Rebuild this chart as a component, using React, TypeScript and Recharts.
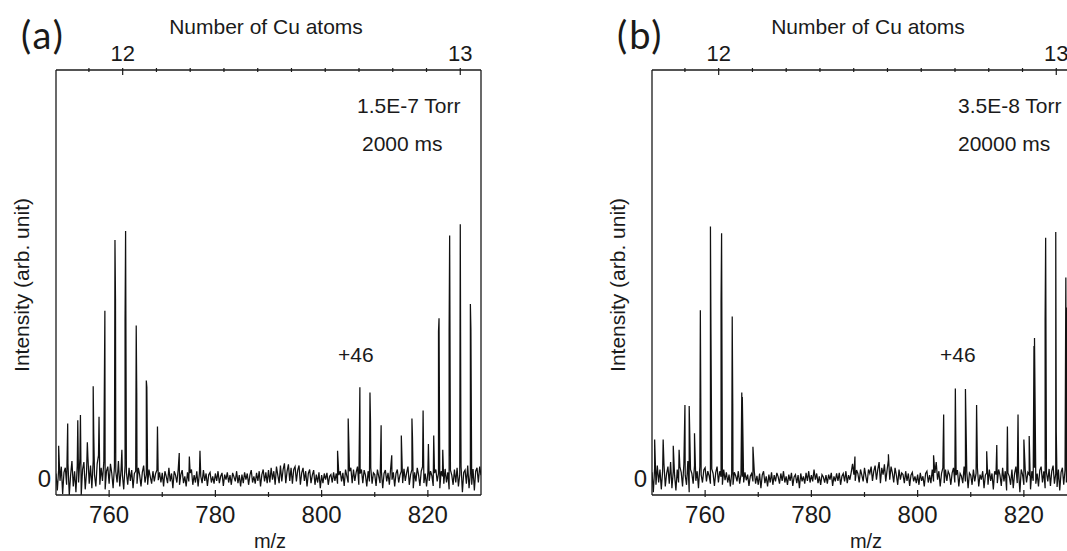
import React from 'react';
import { LineChart, Line, XAxis, YAxis, ReferenceLine } from 'recharts';

// m/z sampling of the baseline trace
const MZ_START = 750;
const MZ_STEP = 0.25;
const MZ_DOMAIN = [750, 830];
const MZ_TICKS = [760, 770, 780, 790, 800, 810, 820];
const MZ_LABELS = [760, 780, 800, 820];

// top axis: number of Cu atoms (mass of one Cu atom)
const CU_MASS = 63.546;
const CU_TICKS = [11.9, 12, 12.1, 12.2, 12.3, 12.4, 12.5, 12.6, 12.7, 12.8, 12.9, 13];
const CU_LABELS = [12, 13];

const Y_DOMAIN = [-30, 720];

// (a) 1.5E-7 Torr, 2000 ms : baseline noise every 0.25 m/z from 750
const noiseA = [
  8, -22, 15, -5, 20, -28, 10, 18, -12, 25, -30, 5, 30, -15, 12, -25, 22, -8, 35, -30,
  15, 28, -20, 10, 38, -10, 22, -18, 30, 5, -15, 25, 40, -12, 18, -5, 28, -20, 12, 20,
  -10, 25, 8, -18, 20, 12, -8, 30, -15, 15, 5, -20, 22, 10, -12, 18, -5, 14, -18, 8,
  12, -10, 18, 5, -15, 10, 22, -8, 6, -12, 15, 2, -10, 12, -6, 8, 14, -4, 10, -8,
  9, -15, 12, 3, -9, 18, -6, 8, -18, 12, 5, -8, 15, -12, 6, 14, -9, 3, -15, 10,
  -6, 9, 15, -12, 5, -8, 12, -15, 9, 3, -9, 14, -5, 8, -14, 6, 10, -8, 3, -10,
  8, -5, 12, -9, 3, 9, -14, 6, -3, 10, -8, 5, -12, 9, 2, -6, 12, -9, 5, -15,
  6, -9, 10, -3, 8, -12, 5, 14, -8, 3, -10, 9, -5, 12, -15, 6, 15, -6, 10, -9,
  14, -8, 18, -3, 12, -12, 20, 5, -9, 22, -6, 15, 26, -9, 12, 24, -5, 18, -10, 15,
  20, -6, 14, 22, -12, 9, 18, -5, 12, -15, 8, 15, -9, 5, 14, -12, 6, -8, 10, -18,
  5, -9, 8, -3, 9, -12, 3, 6, -8, 10, -5, 8, -10, 5, 12, -6, 9, -14, 15, 3,
  -8, 12, 18, -9, 15, -5, 10, 20, -12, 8, 15, -9, 14, 5, -15, 12, -6, 18, -10, 9,
  6, -14, 15, 3, -9, 12, -18, 8, 14, -6, 9, -12, 18, -3, 10, -15, 8, 15, -8, 5,
  12, -9, 16, -5, 9, 20, -12, 6, 15, -18, 10, -6, 18, 5, -14, 12, 20, -9, 8, -15,
  10, -5, 12, 4, -14, 9, 15, -6, 8, -18, 12, 3, -10, 16, -8, 10, -20, 14, 5, -12,
  15, -8, 18, -15, 6, 20, -25, 10, 14, -10, 22, -18, 8, -12, 16, -22, 12, 18, -8, 20,
  5,
];

// (a) peak tops and shoulders: [m/z, intensity]
const peaksA: [number, number][] = [
  [750.5, 57], [752.2, 96], [754.1, 102], [754.6, 111], [755.9, 63],
  [757.0, 162], [757.1, 80], [758.1, 108], [759.2, 295],
  [761.1, 420], [761.2, 316], [762.4, 50], [763.0, 278], [763.1, 436],
  [765.1, 269], [765.2, 150], [767.0, 172], [767.1, 160], [769.1, 91],
  [773.2, 44], [775.1, 38], [777.1, 48],
  [803.0, 48], [805.0, 105], [807.2, 160], [809.1, 151], [809.2, 100],
  [811.2, 93], [813.2, 40], [815.0, 75], [817.0, 105], [817.1, 72],
  [819.1, 119], [820.1, 60], [821.1, 75], [822.0, 259], [822.1, 282],
  [822.8, 50], [824.0, 263], [824.1, 428], [826.1, 448], [826.2, 106],
  [828.0, 307], [828.1, 262],
];

// (b) 3.5E-8 Torr, 20000 ms
const noiseB = [
  10, -25, 18, -12, 22, -8, 15, -20, 12, 25, -15, 8, 20, -10, 28, -18, 12, 5, -22, 15,
  -8, 20, 10, -15, 25, 5, -12, 30, -25, 15, 8, -10, 22, -5, 12, -18, 20, 6, -8, 14,
  18, -6, 12, 4, -10, 16, 8, -14, 10, 20, -8, 12, 2, -12, 15, -4, 10, -8, 6, -15,
  8, -12, 10, 4, -6, 12, -10, 6, 2, -8, 10, -4, 6, -14, 3, 8, -6, 12, -10, 4,
  -12, 8, -18, 5, 12, -9, 3, -15, 6, -8, 10, -12, 5, -6, 9, 2, -10, 8, -5, 12,
  -8, 3, -12, 6, -5, 9, -14, 2, 6, -9, 5, -18, 8, -6, 3, -10, 9, -5, 12, -8,
  5, -6, 15, -3, 8, -9, 3, -12, 6, 2, -8, 5, -10, 6, -3, 9, -14, 3, -6, 8,
  -5, 9, -12, 3, 8, -6, 12, -9, 5, -3, 10, 25, 6, -5, 14, 8, -8, 15, 5, -6,
  18, 3, -9, 15, 8, 20, -5, 12, 22, -3, 15, 28, -9, 18, 6, 24, -6, 14, 32, -3,
  20, 9, -8, 18, 5, -12, 15, -3, 9, 6, -9, 12, -5, 8, -14, 5, 10, -6, 3, -9,
  6, -12, 9, -5, 3, -15, 8, 12, -8, 5, -9, 15, -6, 9, 28, -3, 12, -15, 8, 18,
  -9, 15, -5, 12, 6, -12, 9, 18, -8, 5, 14, -15, 8, 3, -9, 20, -6, 12, -18, 9,
  5, -12, 15, -6, 8, 18, -15, 6, -3, 12, -18, 5, 9, -12, 15, -5, 8, -20, 12, 6,
  -9, 15, 5, -14, 18, -6, 12, -22, 9, 3, -12, 15, -18, 8, 20, -9, 12, -25, 15, 6,
  -12, 15, -8, 10, 6, -20, 12, -5, 18, -10, 8, -15, 14, 20, -8, 12, -18, 10, -6, 16,
  -14, 12, 22, -10, 8, -16, 15, -22, 10, 18, -12, 14, -8, 20, -18, 10, -25, 16, 8, -10,
  6,
];

const peaksB: [number, number][] = [
  [750.5, 68], [752.1, 68], [754.0, 57], [755.1, 50], [756.2, 129], [757.0, 127],
  [758.0, 79], [759.1, 296], [761.0, 444], [761.1, 254], [763.0, 311], [763.1, 432],
  [765.1, 285], [765.2, 132], [766.9, 151], [767.0, 143], [769.0, 55],
  [788.2, 38], [794.5, 42], [803.0, 40],
  [804.9, 112], [807.1, 158], [809.0, 157], [809.1, 100], [811.1, 129], [813.0, 47],
  [814.9, 58], [816.9, 91], [818.9, 112], [820.0, 68], [821.0, 74], [821.9, 233], [822.0, 247],
  [824.0, 279], [824.1, 424], [826.0, 434], [826.1, 81], [827.9, 354], [828.0, 301],
];

const FONT = '"Liberation Sans", Arial, sans-serif';
const INK = '#1a1a1a';

function buildSpectrum(noise: number[], peaks: [number, number][]) {
  const pts = noise.map((v, i) => ({ mz: MZ_START + i * MZ_STEP, a: v }));
  peaks.forEach(([mz, a]) => pts.push({ mz, a }));
  return pts.sort((p, q) => p.mz - q.mz);
}

const BottomTick = (props: any) => {
  const { x, y, payload } = props;
  const major = MZ_LABELS.includes(payload.value);
  return (
    <g>
      <line x1={x} y1={y} x2={x} y2={y - (major ? 7 : 5)} stroke={INK} strokeWidth={1.2} />
      {major && (
        <text x={x} y={y + 26} textAnchor="middle" fontSize={24} fontFamily={FONT} fill={INK}>
          {payload.value}
        </text>
      )}
    </g>
  );
};

const TopTick = (props: any) => {
  const { x, y, payload } = props;
  const n = Math.round((payload.value / CU_MASS) * 10) / 10;
  const major = CU_LABELS.includes(n);
  return (
    <g>
      <line x1={x} y1={y} x2={x} y2={y + (major ? 7 : 4)} stroke={INK} strokeWidth={1.2} />
      {major && (
        <text x={x} y={y - 7} textAnchor="middle" fontSize={22} fontFamily={FONT} fill={INK}>
          {n}
        </text>
      )}
    </g>
  );
};

const ZeroTick = (props: any) => {
  const { x, y, payload } = props;
  return (
    <text x={x - 3} y={y + 9} textAnchor="end" fontSize={24} fontFamily={FONT} fill={INK}>
      {payload.value}
    </text>
  );
};

interface PanelProps {
  left: number;
  tag: string;
  pressure: string;
  time: string;
  noteX: number;
  timeX: number;
  titleX: number;
  shiftX: number;
  data: { mz: number; a: number }[];
}

const Panel: React.FC<PanelProps> = ({ left, tag, pressure, time, noteX, timeX, titleX, shiftX, data }) => {
  const axisLine = { stroke: INK, strokeWidth: 1.3 };
  return (
    <div style={{ position: 'absolute', left, top: 0, width: 540, height: 551 }}>
      <LineChart width={540} height={551} data={data} margin={{ top: 40, right: 59, bottom: 26, left: 16 }}>
        <XAxis
          dataKey="mz"
          type="number"
          domain={MZ_DOMAIN}
          allowDataOverflow
          ticks={MZ_TICKS}
          interval={0}
          tick={<BottomTick />}
          tickLine={false}
          tickSize={0}
          height={30}
          axisLine={axisLine}
        />
        <XAxis
          xAxisId="top"
          orientation="top"
          dataKey="mz"
          type="number"
          domain={MZ_DOMAIN}
          allowDataOverflow
          ticks={CU_TICKS.map((n) => n * CU_MASS)}
          interval={0}
          tick={<TopTick />}
          tickLine={false}
          tickSize={0}
          height={30}
          axisLine={axisLine}
        />
        <YAxis
          type="number"
          domain={Y_DOMAIN}
          allowDataOverflow
          ticks={[0]}
          tick={<ZeroTick />}
          tickLine={false}
          tickSize={0}
          width={40}
          axisLine={axisLine}
        />
        <ReferenceLine x={830} stroke={INK} strokeWidth={1.3} />
        <Line xAxisId="top" dataKey="a" stroke="none" dot={false} isAnimationActive={false} />
        <Line dataKey="a" stroke="#111" strokeWidth={1.25} dot={false} isAnimationActive={false} />
      </LineChart>
      <svg
        width={540}
        height={551}
        style={{ position: 'absolute', left: 0, top: 0, pointerEvents: 'none' }}
        fontFamily={FONT}
        fill={INK}
      >
        <text x={21} y={49} fontSize={38} letterSpacing={2} fontFamily="Lato, sans-serif">{tag}</text>
        <text x={titleX} y={34} fontSize={21} textAnchor="middle">Number of Cu atoms</text>
        <text x={noteX} y={113} fontSize={21}>{pressure}</text>
        <text x={timeX} y={151} fontSize={21}>{time}</text>
        <text x={338 + shiftX} y={362} fontSize={21}>+46</text>
        <text x={270} y={548} fontSize={20} textAnchor="middle">m/z</text>
        <text x={0} y={0} fontSize={21} textAnchor="middle" transform="translate(28.5 285) rotate(-90)">
          Intensity (arb. unit)
        </text>
      </svg>
    </div>
  );
};

export default function App() {
  const dataA = buildSpectrum(noiseA, peaksA);
  const dataB = buildSpectrum(noiseB, peaksB);
  return (
    <div
      style={{
        position: 'absolute',
        left: 0,
        top: 0,
        width: 1067,
        height: 551,
        overflow: 'hidden',
        background: '#fff',
      }}
    >
      <Panel left={0} tag="(a)" pressure="1.5E-7 Torr" time="2000 ms" noteX={357} timeX={362} titleX={266} shiftX={0} data={dataA} />
      <Panel left={596} tag="(b)" pressure="3.5E-8 Torr" time="20000 ms" noteX={362} timeX={362} titleX={272} shiftX={6} data={dataB} />
    </div>
  );
}
